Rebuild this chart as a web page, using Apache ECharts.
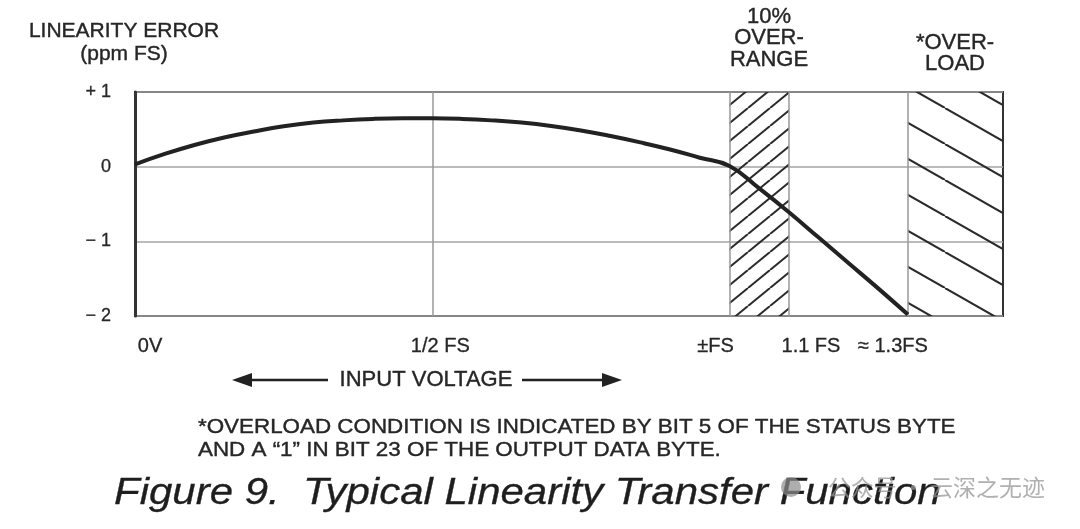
<!DOCTYPE html>
<html>
<head>
<meta charset="utf-8">
<script src="https://cdn.jsdelivr.net/npm/echarts@6/dist/echarts.min.js"></script>
<style>
html,body{margin:0;padding:0;background:#fff;}
#chart{width:1080px;height:529px;}
</style>
</head>
<body>
<div id="chart"></div>
<script>
// ---- data ----
const inputFS = [0, 0.05, 0.1, 0.15, 0.2, 0.25, 0.3, 0.35, 0.4, 0.45, 0.5, 0.55, 0.6, 0.65, 0.7, 0.75, 0.8, 0.85, 0.9, 0.95, 1.0, 1.05, 1.1, 1.15, 1.2, 1.25, 1.3];
const errorPpm = [0.03, 0.17, 0.29, 0.39, 0.47, 0.54, 0.59, 0.62, 0.64, 0.648, 0.648, 0.64, 0.62, 0.59, 0.545, 0.485, 0.41, 0.325, 0.23, 0.12, 0.01, -0.29, -0.61, -0.95, -1.29, -1.63, -1.98];
const xTickValues = [0, 0.5, 1.0, 1.1, 1.3];
const xTickLabels = ['0V', '1/2 FS', '\u00B1FS', '1.1 FS', '\u2248 1.3FS'];
const yTickValues = [1, 0, -1, -2];
const yTickLabels = ['+ 1', '0', '\u2212 1', '\u2212 2'];
const xMax = 1.46;
const overRange = [1.0, 1.1];
const overLoad = [1.3, 1.46];
const verticalRefs = [0.5, 1.0, 1.1, 1.3];
const yTitle = 'LINEARITY ERROR\n(ppm FS)';
const overRangeLabel = '10%\nOVER-\nRANGE';
const overLoadLabel = '*OVER-\nLOAD';
const xTitle = 'INPUT VOLTAGE';
const footnote = '*OVERLOAD CONDITION IS INDICATED BY BIT 5 OF THE STATUS BYTE\nAND A \u201C1\u201D IN BIT 23 OF THE OUTPUT DATA BYTE.';
const figTitle = 'Figure 9.  Typical Linearity Transfer Function';
const watermark = '公众号 · 云深之无迹';

// ---- hatch patterns ----
function hatch(W, H, dir, lw) {
  const c = document.createElement('canvas');
  c.width = W; c.height = H;
  const g = c.getContext('2d');
  g.strokeStyle = '#2a2a2a';
  g.lineWidth = lw;
  for (const x0 of [-W, 0, W]) {
    g.beginPath();
    if (dir === '/') { g.moveTo(x0, H); g.lineTo(x0 + W, 0); }
    else { g.moveTo(x0, 0); g.lineTo(x0 + W, H); }
    g.stroke();
  }
  return c;
}
const hatchRange = hatch(22, 18, '/', 2);
const hatchLoad = hatch(63, 36, '\\', 2);

const FONT = '"Liberation Sans", Arial, Helvetica, sans-serif';
const TXT = '#262626';
function txt(text, x, y, size, opts, extra) {
  return Object.assign({type: 'text', x: x, y: y, style: Object.assign({
    text: text, fontFamily: FONT, fontSize: size, fill: TXT,
    stroke: TXT, lineWidth: 0.4,
    textAlign: 'center', textVerticalAlign: 'top'
  }, opts || {})}, extra || {});
}

// per-label horizontal shift of tick labels (layout only)
const xLabelShift = [15, 8, -14, 22, -15];
const rich = {};
xTickLabels.forEach((t, i) => {
  const s = xLabelShift[i];
  rich['l' + i] = {
    fontFamily: FONT, fontSize: 20, color: TXT, textBorderColor: TXT, textBorderWidth: 0.3,
    padding: s >= 0 ? [0, 0, 0, 2 * s] : [0, -2 * s, 0, 0]
  };
});

const chart = echarts.init(document.getElementById('chart'), null, {renderer: 'canvas'});
const option = {
  animation: false,
  backgroundColor: '#fff',
  grid: {left: 135, right: 77, top: 92, bottom: 213, show: true, borderColor: '#333', borderWidth: 2},
  xAxis: {
    type: 'value', min: 0, max: xMax,
    axisLine: {show: false}, axisTick: {show: false}, splitLine: {show: false},
    axisLabel: {
      customValues: xTickValues,
      margin: 20,
      formatter: (v) => {
        const i = xTickValues.findIndex(t => Math.abs(t - v) < 1e-6);
        return i < 0 ? '' : '{l' + i + '|' + xTickLabels[i] + '}';
      },
      rich: rich
    }
  },
  yAxis: {
    type: 'value', min: -2, max: 1, interval: 1,
    axisLine: {show: true, lineStyle: {color: '#333', width: 3}},
    axisTick: {show: false},
    splitLine: {show: true, lineStyle: {color: '#a5a5a5', width: 1.5}},
    axisLabel: {
      margin: 24, fontFamily: FONT, fontSize: 18, color: TXT, textBorderColor: TXT, textBorderWidth: 0.3,
      formatter: (v) => {
        const i = yTickValues.indexOf(v);
        return i < 0 ? '' : yTickLabels[i];
      }
    }
  },
  series: [{
    type: 'line',
    data: inputFS.map((x, i) => [x, errorPpm[i]]),
    smooth: 0.45,
    symbol: 'none',
    lineStyle: {color: '#222', width: 4},
    z: 5,
    markLine: {
      silent: true, symbol: 'none', label: {show: false},
      lineStyle: {color: '#999', width: 1.5, type: 'solid'},
      data: verticalRefs.map(v => ({xAxis: v}))
    },
    markArea: {
      silent: true,
      data: [
        [{xAxis: overRange[0], itemStyle: {color: {image: hatchRange, repeat: 'repeat'}}}, {xAxis: overRange[1]}],
        [{xAxis: overLoad[0], itemStyle: {color: {image: hatchLoad, repeat: 'repeat'}}}, {xAxis: overLoad[1]}]
      ]
    }
  }],
  graphic: [
    txt(yTitle, 124, 20, 21, {lineHeight: 23}),
    txt(overRangeLabel, 769, 6, 22, {lineHeight: 21.5}),
    txt(overLoadLabel, 955, 32, 22, {lineHeight: 21.5}),
    {type: 'line', shape: {x1: 248, y1: 380, x2: 328, y2: 380}, style: {stroke: '#222', lineWidth: 2.5}},
    {type: 'polygon', shape: {points: [[232, 380], [252, 373], [252, 387]]}, style: {fill: '#222'}},
    txt(xTitle, 426, 380, 22, {textVerticalAlign: 'middle'}),
    {type: 'line', shape: {x1: 522, y1: 380, x2: 606, y2: 380}, style: {stroke: '#222', lineWidth: 2.5}},
    {type: 'polygon', shape: {points: [[622, 380], [602, 373], [602, 387]]}, style: {fill: '#222'}},
    txt(footnote, 198, 416, 21, {textAlign: 'left', lineHeight: 23}, {scaleX: 1.066}),
    txt(figTitle, 114, 476, 36, {textAlign: 'left', fontStyle: 'italic', fill: '#1e1e1e', stroke: '#1e1e1e', lineWidth: 0.3}, {scaleX: 1.166}),
    {type: 'circle', z: 10, shape: {cx: 791, cy: 487, r: 10}, style: {fill: 'rgba(140,140,140,0.7)'}},
    {type: 'text', x: 1045, y: 487, z: 10, style: {text: watermark, fontFamily: '"Noto Sans CJK SC", sans-serif', fontSize: 23, fill: 'rgba(150,150,150,0.75)', textAlign: 'right', textVerticalAlign: 'middle'}}
  ]
};
chart.setOption(option);
</script>
</body>
</html>
